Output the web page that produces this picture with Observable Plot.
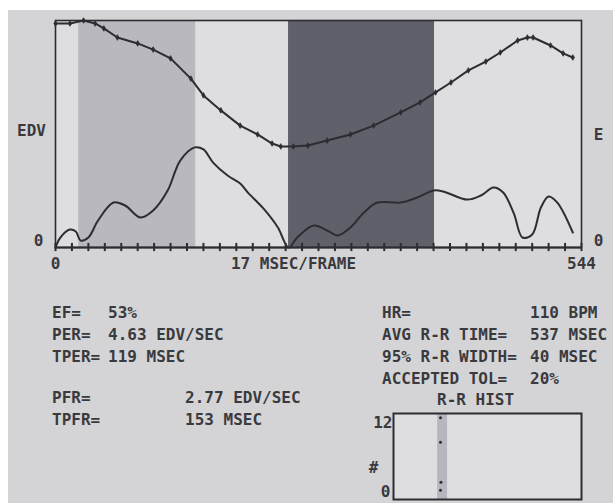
<!DOCTYPE html>
<html><head><meta charset="utf-8">
<script src="https://cdn.jsdelivr.net/npm/d3@7"></script>
<script src="https://cdn.jsdelivr.net/npm/@observablehq/plot@0.6"></script>
<style>
html,body{margin:0;padding:0;background:#fff;}
#fig{position:relative;width:613px;height:503px;overflow:hidden;background:#fff;font-family:"DejaVu Sans Mono",monospace;color:#3a3a3e;}
#photo{position:absolute;left:8px;top:10px;right:0;bottom:0;background:#d4d4d6;}
.t{position:absolute;white-space:pre;font-size:16px;line-height:22px;font-weight:bold;}
.abs{position:absolute;}
</style></head><body>
<div id="fig"><div id="photo"></div>
<div id="main" class="abs" style="left:0;top:0"></div>
<div id="hist" class="abs" style="left:360px;top:405px"></div>
</div>
<script>
// ---- data ----
const volumeMs = [0,15,29,41,50,64,85,101,119,140,153,171,191,209,224,233,246,261,281,305,329,357,377,393,409,427,445,460,478,488,494,512,525,535];
const volumePct = [98.7,98.7,100,98.7,96.5,92.5,89.9,87.2,83.3,74.4,67.0,60.4,53.7,49.8,45.8,44.5,44.5,44.9,47.1,49.8,53.7,59.5,63.9,68.3,72.7,78.0,81.9,85.9,91.2,92.5,92.5,89.0,85.5,83.7];
const rateMs = [0,5,15,21,26,34,44,60,72,88,101,116,129,144,153,163,178,191,199,215,230,241,250,267,281,292,305,319,333,357,374,391,401,426,440,453,463,474,483,493,502,510,519,535];
const rateVal = [0,4.4,7.9,7.0,3.1,4.4,11.9,19.8,18.5,13.2,16.3,25.1,38.3,44.1,43.2,37.4,31.7,28.2,24.2,17.2,8.8,0,4.4,9.7,7.5,5.3,8.8,15.4,19.8,19.8,22.0,25.1,24.7,21.1,22.9,26.4,24.2,15.0,4.4,5.7,17.6,22.5,19.8,6.6];
const bandStart = [24, 241];
const bandEnd = [145, 392];
const bandShade = ["#b8b8be", "#60606a"];
const frameTicks = d3.range(0, 545, 17);
const xTickLabels = [0, 544];
const xTitle = "17 MSEC/FRAME";
const leftLabel = "EDV", rightLabel = "E", zeroLabel = "0";

const statsA = ["EF=", "PER=", "TPER="];
const statsAVal = ["53%", "4.63 EDV/SEC", "119 MSEC"];
const statsB = ["PFR=", "TPFR="];
const statsBVal = ["2.77 EDV/SEC", "153 MSEC"];
const statsC = ["HR=", "AVG R-R TIME=", "95% R-R WIDTH=", "ACCEPTED TOL="];
const statsCVal = ["110 BPM", "537 MSEC", "40 MSEC", "20%"];
const histTitle = "R-R HIST";
const histBandStart = [470], histBandEnd = [575];
const histDotMs = [500, 500, 505, 500];
const histDotCount = [11.4, 8.0, 2.4, 1.3];
const histYLabels = ["12", "#", "0"];

// ---- main chart ----
const ink = "#2c2c32";
const vol = volumeMs.map((x, i) => ({x, y: volumePct[i]}));
const rate = rateMs.map((x, i) => ({x, y: rateVal[i]}));
const bands = bandStart.map((s, i) => ({s, e: bandEnd[i], c: bandShade[i]}));
const font = {fontFamily: "DejaVu Sans Mono", fontSize: 16, fontWeight: "bold", fill: "#3a3a3e"};

const main = Plot.plot({
  width: 613, height: 280,
  marginLeft: 55, marginRight: 32, marginTop: 20, marginBottom: 33,
  style: {background: "transparent", overflow: "visible"},
  x: {domain: [0, 544], axis: null},
  y: {domain: [0, 100], axis: null},
  marks: [
    Plot.frame({fill: "#dedee0", stroke: null}),
    Plot.rect(bands, {x1: "s", x2: "e", fill: "c"}),
    Plot.frame({stroke: ink, strokeWidth: 1.6}),
    Plot.line(rate, {x: "x", y: "y", stroke: ink, strokeWidth: 2, curve: "catmull-rom"}),
    Plot.line(vol, {x: "x", y: "y", stroke: ink, strokeWidth: 2}),
    Plot.dot(vol, {x: "x", y: "y", symbol: "diamond", r: 1.7, fill: ink, stroke: ink, strokeWidth: 0.8}),
    Plot.ruleY([0], {stroke: ink, strokeWidth: 2}),
    Plot.ruleX(frameTicks, {x: d => d, y1: -1.8, y2: 1.8, stroke: ink, strokeWidth: 2}),
    Plot.text(xTickLabels, {x: d => d, text: d => String(d), frameAnchor: "bottom", dy: 21, ...font}),
    Plot.text([xTitle], {frameAnchor: "bottom", dx: -25, dy: 21, ...font}),
    Plot.text([leftLabel], {frameAnchor: "left", dx: -24, dy: -3, textAnchor: "middle", ...font}),
    Plot.text([rightLabel], {frameAnchor: "right", dx: 17, dy: 1, textAnchor: "middle", ...font}),
    Plot.text([zeroLabel], {frameAnchor: "bottom-left", dx: -17, dy: -2, textAnchor: "middle", lineAnchor: "bottom", ...font}),
    Plot.text([zeroLabel], {frameAnchor: "bottom-right", dx: 17, dy: -2, textAnchor: "middle", lineAnchor: "bottom", ...font})
  ]
});
document.getElementById("main").appendChild(main);

// ---- text blocks ----
const fig = document.getElementById("fig");
function block(lines, left, top) {
  const d = document.createElement("div");
  d.className = "t";
  d.style.left = left + "px"; d.style.top = top + "px";
  d.textContent = lines.join("\n");
  fig.appendChild(d);
}
block(statsA, 52, 302); block(statsAVal, 108, 302);
block(statsB, 52, 387); block(statsBVal, 185, 387);
block(statsC, 382, 302); block(statsCVal, 530, 302);
block([histTitle], 437, 389);

// ---- histogram ----
const hb = histBandStart.map((s, i) => ({s, e: histBandEnd[i]}));
const hd = histDotMs.map((x, i) => ({x, y: histDotCount[i]}));
const hist = Plot.plot({
  width: 253, height: 98,
  marginLeft: 33, marginRight: 32, marginTop: 8, marginBottom: 4,
  style: {background: "transparent", overflow: "visible"},
  x: {domain: [0, 2000], axis: null},
  y: {domain: [0, 12], axis: null},
  marks: [
    Plot.frame({fill: "#dedee0", stroke: null}),
    Plot.rect(hb, {x1: "s", x2: "e", fill: "#b6b6be"}),
    Plot.dot(hd, {x: "x", y: "y", r: 1.5, fill: ink, stroke: null}),
    Plot.frame({stroke: ink, strokeWidth: 2}),
    Plot.text([histYLabels[0]], {frameAnchor: "top-left", dx: -1, dy: 3, textAnchor: "end", lineAnchor: "top", ...font}),
    Plot.text([histYLabels[1]], {frameAnchor: "left", dx: -20, dy: 11, textAnchor: "middle", ...font}),
    Plot.text([histYLabels[2]], {frameAnchor: "bottom-left", dx: -8, dy: -3, textAnchor: "middle", lineAnchor: "bottom", ...font})
  ]
});
document.getElementById("hist").appendChild(hist);
</script>
</body></html>
